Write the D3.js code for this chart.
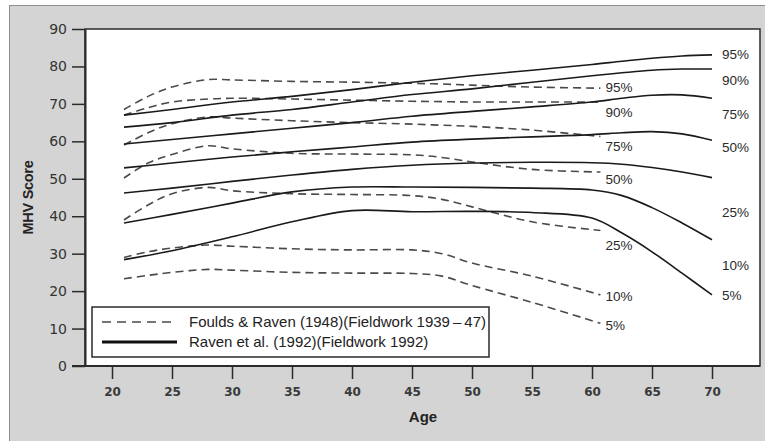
<!DOCTYPE html>
<html>
<head>
<meta charset="utf-8">
<script src="https://cdn.jsdelivr.net/npm/d3@7"></script>
<style>
  body { margin: 0; background: #fff; }
  svg { display: block; }
</style>
</head>
<body>
<div id="wrapper"></div>
<script>
'use strict';

const ravenAges = [21, 25, 30, 35, 40, 45, 50, 55, 60, 62.5, 65, 67.5, 70];
const fouldsAges = [21, 23, 25, 28, 30, 35, 40, 45, 47.5, 50, 55, 60.7];

const percentiles = ['95%', '90%', '75%', '50%', '25%', '10%', '5%'];

// Raven et al. (1992) - solid lines
const raven95 = [67, 68.5, 70.5, 72, 73.8, 75.8, 77.5, 79, 80.5, 81.4, 82.2, 82.8, 83.1];
const raven90 = [63.8, 65, 67, 68.5, 70.5, 72.5, 74, 75.8, 77.5, 78.3, 79, 79.3, 79.3];
const raven75 = [59.3, 60.5, 62, 63.5, 65, 66.7, 68, 69.2, 70.5, 71.5, 72.3, 72.4, 71.5];
const raven50 = [52.9, 54.2, 55.8, 57.2, 58.5, 59.8, 60.6, 61.2, 61.8, 62.3, 62.6, 62, 60.3];
const raven25 = [46.2, 47.5, 49.3, 51, 52.5, 53.6, 54.2, 54.4, 54.3, 53.9, 53, 51.8, 50.3];
const raven10 = [38.2, 40.5, 43.5, 46.5, 47.8, 47.8, 47.7, 47.5, 47, 45.5, 42.3, 38.2, 33.7];
const raven5 = [28.4, 30.8, 34.5, 38.5, 41.5, 41.2, 41.3, 41, 39.5, 35.5, 30.5, 24.8, 19];

// Foulds & Raven (1948) - dashed lines
const foulds95 = [68.5, 72, 74.5, 76.5, 76.4, 76, 75.8, 75.5, 75.3, 75, 74.5, 74.2];
const foulds90 = [67, 69, 70.5, 71.3, 71.5, 71.3, 71, 70.7, 70.6, 70.5, 70.5, 70.5];
const foulds75 = [59, 62.3, 64.7, 66.5, 66.2, 65.5, 65, 64.6, 64.3, 64, 63, 61.3];
const foulds50 = [50.2, 54.2, 56.5, 58.8, 58, 56.8, 56.6, 56.4, 55.7, 54.5, 52.5, 51.8];
const foulds25 = [39, 43, 46, 47.7, 46.8, 46, 45.8, 45.5, 44.5, 42.5, 38.5, 36.2];
const foulds10 = [29, 30.5, 31.5, 32.3, 32, 31.3, 31, 31, 30, 27.5, 24, 19];
const foulds5 = [23.3, 24.2, 25, 25.8, 25.6, 25, 24.8, 24.7, 24, 21.5, 17, 11.4];

// where the percentile labels sit, in MHV score units
const fouldsLabelScores = [74.5, 67.8, 58.8, 49.9, 32.3, 18.7, 11.0];
const ravenLabelScores = [83.3, 76.4, 67.3, 58.5, 41.1, 27, 19];

const xTickValues = [20, 25, 30, 35, 40, 45, 50, 55, 60, 65, 70];
const yTickValues = [0, 10, 20, 30, 40, 50, 60, 70, 80, 90];

const legendLabels = [
  'Foulds & Raven (1948)(Fieldwork 1939\u2009\u2013\u200947)',
  'Raven et al. (1992)(Fieldwork 1992)',
];

function drawChart () {
  const ravenSeries = [raven95, raven90, raven75, raven50, raven25, raven10, raven5];
  const fouldsSeries = [foulds95, foulds90, foulds75, foulds50, foulds25, foulds10, foulds5];

  const dimensions = {
    width: 765,
    height: 441,
    margin: { top: 29, right: 5, bottom: 75, left: 85 },
  };
  dimensions.boundedWidth = dimensions.width - dimensions.margin.left - dimensions.margin.right;
  dimensions.boundedHeight = dimensions.height - dimensions.margin.top - dimensions.margin.bottom;

  const xScale = d3.scaleLinear()
    .domain([17.75, 74])
    .range([0, dimensions.boundedWidth]);

  const yScale = d3.scaleLinear()
    .domain([0, 90])
    .range([dimensions.boundedHeight, 0]);

  const wrapper = d3.select('#wrapper')
    .append('svg')
    .attr('width', dimensions.width)
    .attr('height', dimensions.height);

  // grey panel behind everything
  wrapper.append('rect')
    .attr('x', 9.5)
    .attr('y', 5.5)
    .attr('width', dimensions.width)
    .attr('height', dimensions.height)
    .attr('fill', '#d4d4d4')
    .attr('stroke', '#8f8f8f')
    .attr('stroke-width', 1);

  const bounds = wrapper.append('g')
    .attr('transform', `translate(${dimensions.margin.left}, ${dimensions.margin.top})`);

  bounds.append('rect')
    .attr('width', dimensions.boundedWidth)
    .attr('height', dimensions.boundedHeight)
    .attr('fill', '#fff')
    .attr('stroke', '#2b2b2b')
    .attr('stroke-width', 1.5);

  // axes
  const yAxis = bounds.append('g')
    .call(d3.axisLeft(yScale).tickValues(yTickValues).tickSize(13).tickSizeOuter(0).tickPadding(5));
  yAxis.select('.domain')
    .attr('stroke', '#2b2b2b')
    .attr('stroke-width', 2);
  yAxis.selectAll('.tick line')
    .attr('stroke', '#2b2b2b')
    .attr('stroke-width', 1.5);
  yAxis.selectAll('.tick text')
    .attr('fill', '#333')
    .style('font-family', 'DejaVu Sans, sans-serif')
    .style('font-size', '14px');

  const xAxis = bounds.append('g')
    .attr('transform', `translate(0, ${dimensions.boundedHeight})`)
    .call(d3.axisBottom(xScale).tickValues(xTickValues).tickSize(13).tickSizeOuter(0).tickPadding(8));
  xAxis.select('.domain')
    .attr('stroke', '#2b2b2b')
    .attr('stroke-width', 2)
    .attr('d', `M-13,0H${dimensions.boundedWidth}`);
  xAxis.selectAll('.tick line')
    .attr('stroke', '#2b2b2b')
    .attr('stroke-width', 1.5);
  xAxis.selectAll('.tick text')
    .attr('fill', '#3a3a3a')
    .style('font-family', 'DejaVu Sans, sans-serif')
    .style('font-weight', 'bold')
    .style('font-size', '12px');

  // axis titles
  wrapper.append('text')
    .attr('x', 423)
    .attr('y', 422)
    .attr('text-anchor', 'middle')
    .style('font-family', 'Liberation Sans, Arial, sans-serif')
    .style('font-weight', 'bold')
    .style('font-size', '15px')
    .attr('fill', '#222')
    .text('Age');

  wrapper.append('text')
    .attr('transform', `translate(33, ${dimensions.margin.top + dimensions.boundedHeight / 2}) rotate(-90)`)
    .attr('text-anchor', 'middle')
    .style('font-family', 'Liberation Sans, Arial, sans-serif')
    .style('font-weight', 'bold')
    .style('font-size', '14.5px')
    .style('letter-spacing', '-0.3px')
    .attr('fill', '#222')
    .text('MHV Score');

  // curves
  const ravenLine = d3.line()
    .x((d, i) => xScale(ravenAges[i]))
    .y(d => yScale(d))
    .curve(d3.curveCatmullRom.alpha(0.5));

  const fouldsLine = d3.line()
    .x((d, i) => xScale(fouldsAges[i]))
    .y(d => yScale(d))
    .curve(d3.curveCatmullRom.alpha(0.5));

  bounds.append('g')
    .selectAll('path')
    .data(fouldsSeries)
    .join('path')
    .attr('d', fouldsLine)
    .attr('fill', 'none')
    .attr('stroke', '#4a4a4a')
    .attr('stroke-width', 1.6)
    .attr('stroke-dasharray', '8,5');

  bounds.append('g')
    .selectAll('path')
    .data(ravenSeries)
    .join('path')
    .attr('d', ravenLine)
    .attr('fill', 'none')
    .attr('stroke', '#1a1a1a')
    .attr('stroke-width', 1.6);

  // percentile labels
  const labelStyle = sel => sel
    .attr('dy', '0.35em')
    .attr('fill', '#2a2a2a')
    .style('font-family', 'Liberation Sans, Arial, sans-serif')
    .style('font-size', '13.5px');

  bounds.append('g')
    .selectAll('text')
    .data(percentiles)
    .join('text')
    .attr('x', xScale(fouldsAges[fouldsAges.length - 1]) + 5)
    .attr('y', (d, i) => yScale(fouldsLabelScores[i]))
    .call(labelStyle)
    .text(d => d);

  bounds.append('g')
    .selectAll('text')
    .data(percentiles)
    .join('text')
    .attr('x', xScale(ravenAges[ravenAges.length - 1]) + 10)
    .attr('y', (d, i) => yScale(ravenLabelScores[i]))
    .call(labelStyle)
    .text(d => d);

  // legend
  const legend = bounds.append('g')
    .attr('transform', `translate(7, ${dimensions.boundedHeight - 59})`);

  legend.append('rect')
    .attr('width', 397)
    .attr('height', 50)
    .attr('fill', '#fff')
    .attr('stroke', '#2b2b2b')
    .attr('stroke-width', 1.5);

  const legendRows = legend.selectAll('g.row')
    .data(legendLabels)
    .join('g')
    .attr('class', 'row')
    .attr('transform', (d, i) => `translate(0, ${15 + i * 20})`);

  legendRows.append('line')
    .attr('x1', 10)
    .attr('x2', 85)
    .attr('stroke', (d, i) => i === 0 ? '#4a4a4a' : '#111')
    .attr('stroke-width', (d, i) => i === 0 ? 1.5 : 2.8)
    .attr('stroke-dasharray', (d, i) => i === 0 ? '9,6' : null);

  legendRows.append('text')
    .attr('x', 97)
    .attr('dy', '0.36em')
    .attr('fill', '#222')
    .style('font-family', 'Liberation Sans, Arial, sans-serif')
    .style('font-size', '15px')
    .text(d => d);
}

drawChart();
</script>
</body>
</html>
